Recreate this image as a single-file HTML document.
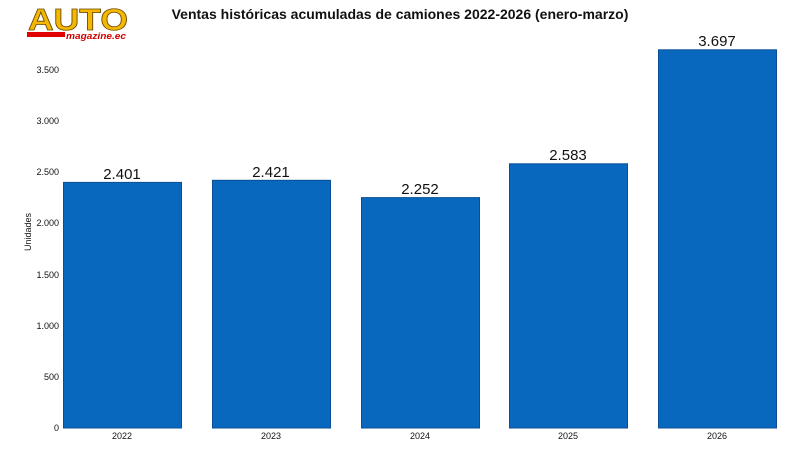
<!DOCTYPE html>
<html><head><meta charset="utf-8"><style>
body{margin:0;background:#fff;width:800px;height:445px;overflow:hidden;font-family:"Liberation Sans",sans-serif}
</style></head><body>
<svg width="800" height="445" xmlns="http://www.w3.org/2000/svg" font-family="Liberation Sans, sans-serif">
<text x="28" y="30" font-size="31" font-weight="bold" fill="#f5b800" stroke="#6b4a00" stroke-width="0.8" textLength="100" lengthAdjust="spacingAndGlyphs">AUTO</text>
<rect x="27" y="32" width="38" height="5" fill="#e00000"/>
<text x="66" y="39" font-size="9" font-weight="bold" font-style="italic" fill="#d00000" textLength="60" lengthAdjust="spacingAndGlyphs">magazine.ec</text>
<text x="400" y="19" font-size="14" font-weight="bold" text-anchor="middle" fill="#111">Ventas históricas acumuladas de camiones 2022-2026 (enero-marzo)</text>
<g font-size="9" fill="#111" text-anchor="end">
<text x="59" y="431">0</text><text x="59" y="380">500</text><text x="59" y="329">1.000</text><text x="59" y="278">1.500</text><text x="59" y="226">2.000</text><text x="59" y="175">2.500</text><text x="59" y="124">3.000</text><text x="59" y="73">3.500</text>
</g>
<text transform="translate(31,232) rotate(-90)" font-size="9" text-anchor="middle" fill="#111">Unidades</text>
<g fill="#0868bd" stroke="#0a4f96" stroke-width="1">
<rect x="63.5" y="182.4" width="118" height="245.6"/>
<rect x="212.5" y="180.3" width="118" height="247.7"/>
<rect x="361.5" y="197.6" width="118" height="230.4"/>
<rect x="509.5" y="163.8" width="118" height="264.2"/>
<rect x="658.5" y="49.8" width="118" height="378.2"/>
</g>
<g font-size="15" text-anchor="middle" fill="#111">
<text x="122" y="179">2.401</text><text x="271" y="177">2.421</text><text x="420" y="194">2.252</text><text x="568" y="160">2.583</text><text x="717" y="46">3.697</text>
</g>
<g font-size="9" text-anchor="middle" fill="#111">
<text x="122" y="439">2022</text><text x="271" y="439">2023</text><text x="420" y="439">2024</text><text x="568" y="439">2025</text><text x="717" y="439">2026</text>
</g>
</svg>
</body></html>
